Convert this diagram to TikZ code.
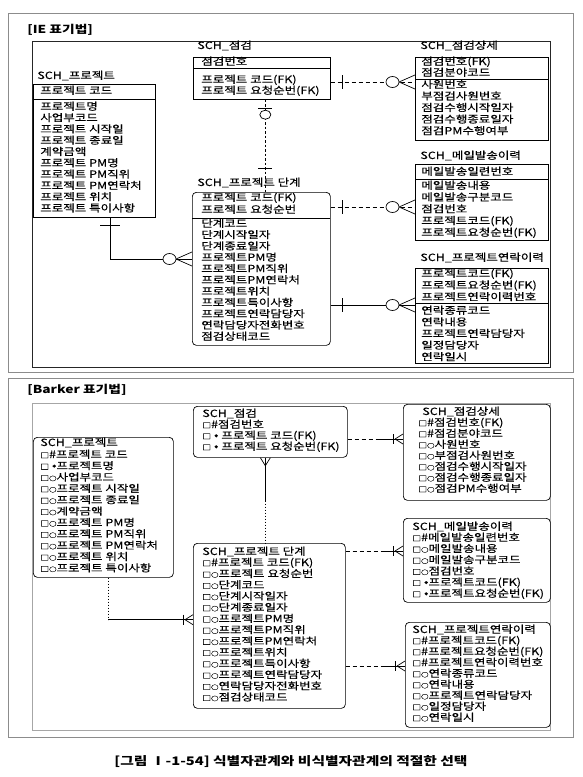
\documentclass[tikz,border=0pt]{standalone}
\usepackage{fontspec}
\setmainfont{Noto Sans CJK KR}[FakeStretch=1.25, UprightFeatures={FakeBold=0.3}]
\usetikzlibrary{calc}

% barker attribute marks
\newcommand\bx{{\fontsize{7}{7}\selectfont □}}
\newcommand\uid{\#}
\newcommand\opt{{\fontsize{6}{6}\selectfont ○}}
\newcommand\mnd{\ {\fontsize{11}{11}\selectfont •}}

\tikzset{
  iemany/.pic={
    \draw (-16,0) -- (0,-7) (-16,0) -- (0,7);
    \draw[fill=white] (-22.5,0) ellipse [x radius=6.5, y radius=5.5];
  },
  iebar/.pic={\draw (0,-7) -- (0,7);},
  bkmany/.pic={\draw (-8,0) -- (0,-5) (-8,0) -- (0,5);},
  bkbar/.pic={\draw (-10,-5) -- (-10,5);}
}

\begin{document}
\begin{tikzpicture}[x=1pt, y=-1pt, line width=0.7pt,
  ent/.style={draw, anchor=north west, inner sep=0pt},
  rent/.style={ent, rounded corners=4pt},
  attr/.style={anchor=west, inner sep=0pt, text height=7.5pt, text depth=1.5pt,
    font=\fontsize{10}{12}\selectfont},
  ptitle/.style={anchor=west, inner sep=0pt, font=\fontsize{11}{13}\selectfont\bfseries},
  iedash/.style={dash pattern=on 4pt off 3pt},
  ievdash/.style={dash pattern=on 2.5pt off 2pt},
  bdash/.style={dash pattern=on 4pt off 3pt},
  bdot/.style={dash pattern=on 1.2pt off 1.8pt}]

\useasboundingbox (0,0) rectangle (583,777);

% panel frames
\draw[black!45, line width=0.6pt] (8,13) rectangle (573,372);
\draw[black!85, line width=0.8pt] (32,41) rectangle (550,367);
\draw[black!45, line width=0.6pt] (8,378) rectangle (573,737);
\draw[black!35, line width=0.6pt] (32,403) rectangle (550,730);

\node[ptitle] (ie) at (27,30) {[IE 표기법]};
\node[ptitle] (bk) at (27,390) {[Barker 표기법]};

% ---------- IE ----------
% SCH_프로젝트
\node[ent, minimum width=122pt, minimum height=133pt] (iproj) at (33,84) {};
\draw (iproj.north west) ++(0,15) -- ++(122,0);
\node[attr] (iprojt) at (37,76) {SCH\_프로젝트};
\node[attr] (iprojk) at (40,91) {프로젝트 코드};
\foreach \t [count=\i from 0] in {프로젝트명, 사업부코드, 프로젝트 시작일, 프로젝트 종료일,
  계약금액, 프로젝트 PM명, 프로젝트 PM직위, 프로젝트 PM연락처, 프로젝트 위치, 프로젝트 특이사항}
  \node[attr] (iproja\i) at (40,107+11.3*\i) {\t};

% SCH_점검
\node[ent, minimum width=137pt, minimum height=42pt] (ichk) at (193,57) {};
\draw (ichk.north west) ++(0,11) -- ++(137,0);
\node[attr] (ichkt) at (197,46) {SCH\_점검};
\node[attr] (ichkk) at (201,62) {점검번호};
\node[attr] (ichka0) at (201,80) {프로젝트 코드(FK)};
\node[attr] (ichka1) at (201,91) {프로젝트 요청순번(FK)};

% SCH_점검상세
\node[ent, minimum width=133pt, minimum height=83pt] (idtl) at (415,57) {};
\draw (idtl.north west) ++(0,22) -- ++(133,0);
\node[attr] (idtlt) at (420,46) {SCH\_점검상세};
\node[attr] (idtlk0) at (421,62) {점검번호(FK)};
\node[attr] (idtlk1) at (421,73) {점검분야코드};
\foreach \t [count=\i from 0] in {사원번호, 부점검사원번호, 점검수행시작일자, 점검수행종료일자, 점검PM수행여부}
  \node[attr] (idtla\i) at (421,85+11.6*\i) {\t};

% SCH_메일발송이력
\node[ent, minimum width=133pt, minimum height=76pt] (imail) at (415,164) {};
\draw (imail.north west) ++(0,15) -- ++(133,0);
\node[attr] (imailt) at (420,156) {SCH\_메일발송이력};
\node[attr] (imailk) at (421,172) {메일발송일련번호};
\foreach \t [count=\i from 0] in {메일발송내용, 메일발송구분코드, 점검번호, 프로젝트코드(FK), 프로젝트요청순번(FK)}
  \node[attr] (imaila\i) at (421,186+11.75*\i) {\t};

% SCH_프로젝트연락이력
\node[ent, minimum width=133pt, minimum height=95pt] (icont) at (415,268) {};
\draw (icont.north west) ++(0,35) -- ++(133,0);
\node[attr] (icontt) at (420,258) {SCH\_프로젝트연락이력};
\foreach \t [count=\i from 0] in {프로젝트코드(FK), 프로젝트요청순번(FK), 프로젝트연락이력번호}
  \node[attr] (icontk\i) at (421,274+11.7*\i) {\t};
\foreach \t [count=\i from 0] in {연락종류코드, 연락내용, 프로젝트연락담당자, 일정담당자, 연락일시}
  \node[attr] (iconta\i) at (421,311+11.6*\i) {\t};

% SCH_프로젝트 단계
\node[rent, minimum width=138pt, minimum height=153pt] (istg) at (192,192) {};
\draw (istg.north west) ++(0,26) -- ++(138,0);
\node[attr] (istgt) at (197,183) {SCH\_프로젝트 단계};
\node[attr] (istgk0) at (201,198) {프로젝트 코드(FK)};
\node[attr] (istgk1) at (201,210) {프로젝트 요청순번};
\foreach \t [count=\i from 0] in {단계코드, 단계시작일자, 단계종료일자, 프로젝트PM명, 프로젝트PM직위,
  프로젝트PM연락처, 프로젝트위치, 프로젝트특이사항, 프로젝트연락담당자, 연락담당자전화번호, 점검상태코드}
  \node[attr] (istga\i) at (201,224+11.3*\i) {\t};

% IE relationships
\coordinate (ic1) at ([yshift=-67pt]istg.north west);
\draw ([xshift=77pt]iproj.south west) |- (ic1);
\draw ([xshift=77pt,yshift=-8pt]iproj.south west) ++(-10,0) -- ++(20,0);
\pic at (ic1) {iemany};

\coordinate (ic2) at ([yshift=-25pt]ichk.north east);
\draw[iedash] (ic2) -- (ic2 -| idtl.west);
\pic at ([xshift=12pt]ic2) {iebar};
\pic at (ic2 -| idtl.west) {iemany};

\coordinate (ic3) at ([yshift=-15pt]istg.north east);
\draw[iedash] (ic3) -- (ic3 -| imail.west);
\pic at ([xshift=12pt]ic3) {iebar};
\pic at (ic3 -| imail.west) {iemany};

\coordinate (ic4) at ([yshift=-113pt]istg.north east);
\draw (ic4) -- (ic4 -| icont.west);
\pic at ([xshift=12pt]ic4) {iebar};
\pic at (ic4 -| icont.west) {iemany};

\coordinate (ic5) at ([xshift=3.5pt]ichk.south);
\draw[ievdash] (ic5) -- (ic5 |- istg.north);
\draw ([yshift=-9pt]ic5) ++(-7,0) -- ++(14,0);
\draw[fill=white] ([yshift=-15pt]ic5) ellipse [x radius=5.5, y radius=4.5];
\draw ([yshift=-69pt]ic5) ++(-7,0) -- ++(14,0);

% ---------- Barker ----------
% SCH_프로젝트
\node[rent, minimum width=140pt, minimum height=140pt] (bproj) at (33,437) {};
\node[attr] (bprojt) at (40,443) {SCH\_프로젝트};
\foreach \t [count=\i from 0] in {\bx\uid 프로젝트 코드, \bx\mnd 프로젝트명, \bx\opt 사업부코드,
  \bx\opt 프로젝트 시작일, \bx\opt 프로젝트 종료일, \bx\opt 계약금액, \bx\opt 프로젝트 PM명,
  \bx\opt 프로젝트 PM직위, \bx\opt 프로젝트 PM연락처, \bx\opt 프로젝트 위치, \bx\opt 프로젝트 특이사항}
  \node[attr] (bproja\i) at (40,455+11.36*\i) {\t};

% SCH_점검
\node[rent, minimum width=154pt, minimum height=51pt] (bchk) at (193,406) {};
\node[attr] (bchkt) at (202,414) {SCH\_점검};
\foreach \t [count=\i from 0] in {\bx\uid 점검번호, \bx\mnd\ 프로젝트 코드(FK), \bx\mnd\ 프로젝트 요청순번(FK)}
  \node[attr] (bchka\i) at (202,425+11*\i) {\t};

% SCH_점검상세
\node[rent, minimum width=147pt, minimum height=96pt] (bdtl) at (403,404) {};
\node[attr] (bdtlt) at (422,412) {SCH\_점검상세};
\foreach \t [count=\i from 0] in {\bx\uid 점검번호(FK), \bx\uid 점검분야코드, \bx\opt 사원번호,
  \bx\opt 부점검사원번호, \bx\opt 점검수행시작일자, \bx\opt 점검수행종료일자, \bx\opt 점검PM수행여부}
  \node[attr] (bdtla\i) at (418,423+11*\i) {\t};

% SCH_메일발송이력
\node[rent, minimum width=147pt, minimum height=84pt] (bmail) at (403,518) {};
\node[attr] (bmailt) at (412,527) {SCH\_메일발송이력};
\foreach \t [count=\i from 0] in {\bx\uid 메일발송일련번호, \bx\opt 메일발송내용, \bx\opt 메일발송구분코드,
  \bx\opt 점검번호, \bx\mnd 프로젝트코드(FK), \bx\mnd 프로젝트요청순번(FK)}
  \node[attr] (bmaila\i) at (412,538+11.2*\i) {\t};

% SCH_프로젝트연락이력
\node[rent, minimum width=145pt, minimum height=105pt] (bcont) at (405,622) {};
\node[attr] (bcontt) at (412,630) {SCH\_프로젝트연락이력};
\foreach \t [count=\i from 0] in {\bx\uid 프로젝트코드(FK), \bx\uid 프로젝트요청순번(FK),
  \bx\uid 프로젝트연락이력번호, \bx\opt 연락종류코드, \bx\opt 연락내용, \bx\opt 프로젝트연락담당자,
  \bx\opt 일정담당자, \bx\opt 연락일시}
  \node[attr] (bconta\i) at (412,641+11*\i) {\t};

% SCH_프로젝트 단계
\node[rent, minimum width=152pt, minimum height=165pt] (bstg) at (193,543) {};
\node[attr] (bstgt) at (202,552) {SCH\_프로젝트 단계};
\foreach \t [count=\i from 0] in {\bx\uid 프로젝트 코드(FK), \bx\opt 프로젝트 요청순번, \bx\opt 단계코드,
  \bx\opt 단계시작일자, \bx\opt 단계종료일자, \bx\opt 프로젝트PM명, \bx\opt 프로젝트PM직위,
  \bx\opt 프로젝트PM연락처, \bx\opt 프로젝트위치, \bx\opt 프로젝트특이사항, \bx\opt 프로젝트연락담당자,
  \bx\opt 연락담당자전화번호, \bx\opt 점검상태코드}
  \node[attr] (bstga\i) at (202,563+11.23*\i) {\t};

% Barker relationships
\coordinate (bc1) at ([xshift=75pt,yshift=-42pt]bproj.south west);
\draw[bdot] ([xshift=75pt]bproj.south west) -- (bc1);
\draw (bc1) -- (bc1 -| bstg.west);
\pic at (bc1 -| bstg.west) {bkmany};
\pic at (bc1 -| bstg.west) {bkbar};

\coordinate (bc2) at ([yshift=-33pt]bchk.north east);
\draw[bdash] (bc2) -- ++(29,0) coordinate (bm2);
\draw (bm2) -- (bm2 -| bdtl.west);
\pic at (bm2 -| bdtl.west) {bkmany};
\pic at (bm2 -| bdtl.west) {bkbar};

\coordinate (bc3) at ([yshift=-8pt]bstg.north east);
\draw[bdash] (bc3) -- ++(38,0) coordinate (bm3);
\draw (bm3) -- (bm3 -| bmail.west);
\pic at (bm3 -| bmail.west) {bkmany};
\pic at (bm3 -| bmail.west) {bkbar};

\coordinate (bc4) at ([yshift=-123pt]bstg.north east);
\draw[bdash] (bc4) -- ++(38,0) coordinate (bm4);
\draw (bm4) -- (bm4 -| bcont.west);
\pic at (bm4 -| bcont.west) {bkmany};
\pic at (bm4 -| bcont.west) {bkbar};

\coordinate (bc5) at ([xshift=-5pt]bchk.south);
\draw (bc5) -- ++(0,43) coordinate (bm5);
\draw[bdot] (bm5) -- (bm5 |- bstg.north);
\pic[rotate=90] at (bc5) {bkmany};

% caption
\node[inner sep=0pt, font=\fontsize{11.8}{13}\selectfont\bfseries] (cap) at (291,762)
  {[그림 Ⅰ-1-54] 식별자관계와 비식별자관계의 적절한 선택};
\end{tikzpicture}
\end{document}
